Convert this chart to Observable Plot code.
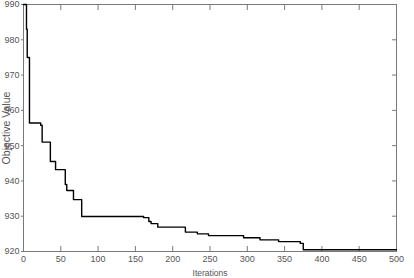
<!DOCTYPE html>
<html><head><meta charset="utf-8">
<script src="https://cdn.jsdelivr.net/npm/d3@7"></script>
<script src="https://cdn.jsdelivr.net/npm/@observablehq/plot@0.6"></script>
<style>
body{margin:0;background:#fff}
svg{font-family:"Liberation Sans Narrow","Liberation Sans",Arial,sans-serif}
</style></head><body><div id="c"></div>
<script>
const iterations = [0, 4, 5, 8, 23, 25, 36, 43, 56, 58, 67, 78, 161, 168, 171, 180, 217, 233, 248, 295, 317, 342, 371, 375, 500];
const objective  = [990, 983, 975, 956.4, 955.8, 951, 945.5, 943.2, 939, 937.3, 934.7, 929.9, 929.6, 928.5, 927.9, 926.9, 925.5, 925.0, 924.5, 923.9, 923.3, 922.8, 922.3, 920.5, 920.5];
const xTicks = [0, 50, 100, 150, 200, 250, 300, 350, 400, 450, 500];
const yTicks = [920, 930, 940, 950, 960, 970, 980, 990];
const xLabel = "Iterations";
const yLabel = "Objective Value";

const data = iterations.map((x, i) => ({x, y: objective[i]}));
const axisColor = "#7a7a7a";
const textColor = "#555";

const chart = Plot.plot({
  width: 414, height: 278,
  marginLeft: 23, marginRight: 18, marginTop: 4, marginBottom: 27,
  style: {fontSize: "9px", color: textColor, background: "#fff"},
  x: {domain: [0, 500]},
  y: {domain: [920, 990]},
  marks: [
    Plot.frame({stroke: axisColor}),
    Plot.axisX(xTicks, {anchor: "bottom", tickSize: 0, tickPadding: 4, label: null, fill: textColor}),
    Plot.axisX(xTicks, {anchor: "bottom", tickSize: 0, text: null, label: xLabel, labelAnchor: "center", labelArrow: "none", labelOffset: 24, fontSize: 8.5, fill: textColor}),
    Plot.axisX(xTicks, {anchor: "bottom", tickSize: -5, text: null, label: null, stroke: axisColor}),
    Plot.axisX(xTicks, {anchor: "top", tickSize: -5, text: null, label: null, stroke: axisColor}),
    Plot.axisY(yTicks, {anchor: "left", tickSize: 2, tickPadding: 2, label: null, fill: textColor, stroke: axisColor}),
    Plot.axisY(yTicks, {anchor: "left", tickSize: 0, text: null, label: yLabel, labelAnchor: "center", labelArrow: "none", labelOffset: 21, fontSize: 10.5, fill: textColor}),
    Plot.axisY(yTicks, {anchor: "right", tickSize: -5, text: null, label: null, stroke: axisColor}),
    Plot.line(data, {x: "x", y: "y", curve: "step-after", stroke: "#000", strokeWidth: 1.4})
  ]
});
document.getElementById("c").appendChild(chart);
</script></body></html>
